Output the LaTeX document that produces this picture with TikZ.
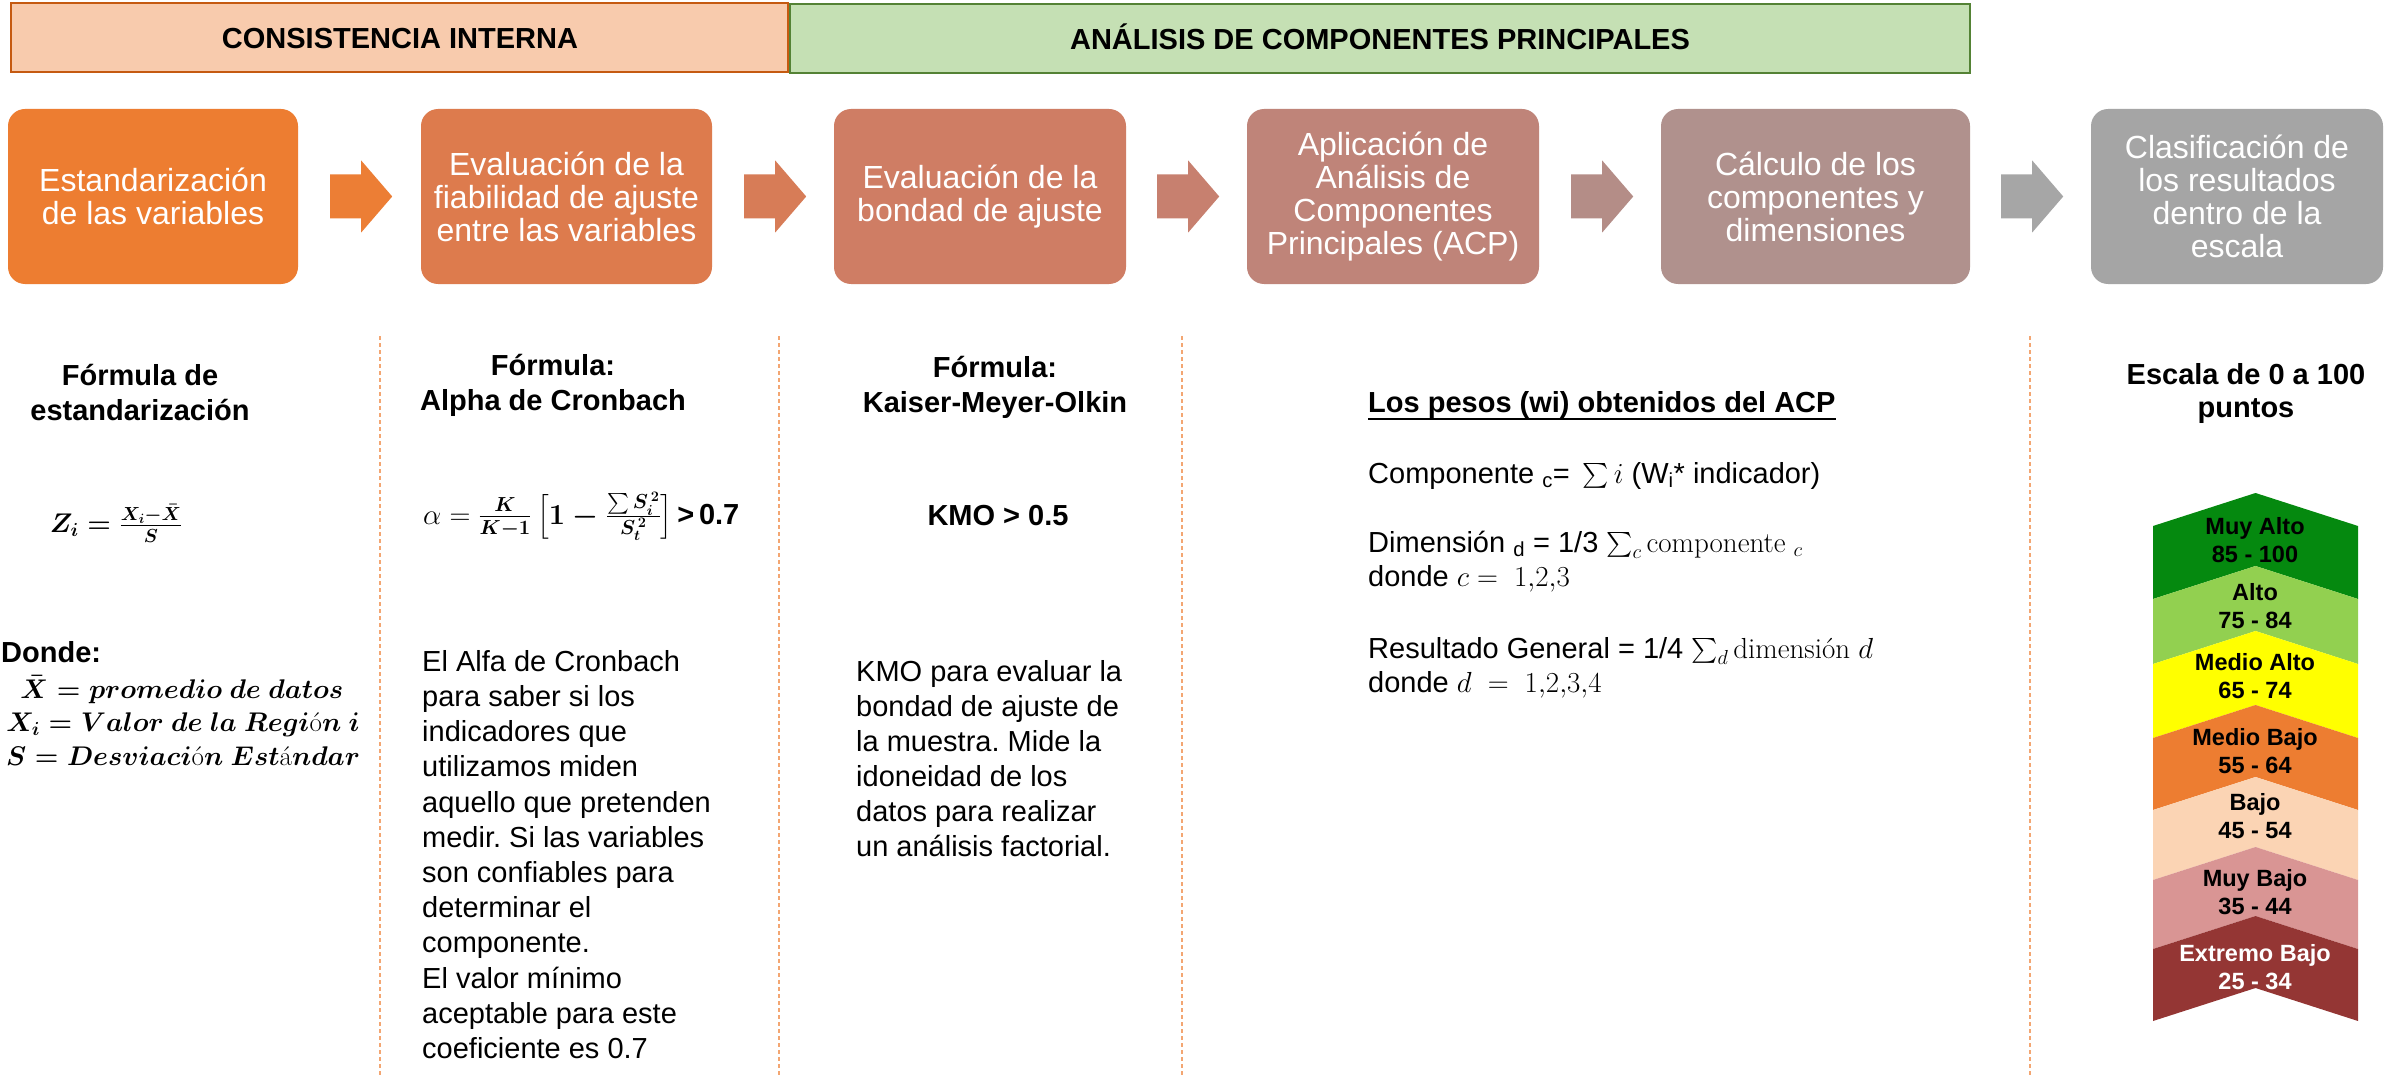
\RequirePackage{fix-cm}
\documentclass[tikz,border=0pt]{standalone}
\usepackage{amsmath}
\usepackage{graphicx}
\usepackage[no-math]{fontspec}
\setmainfont{Liberation Sans}
\usetikzlibrary{calc}
\frenchspacing

\definecolor{hAfill}{HTML}{F8CBAD}
\definecolor{hAline}{HTML}{C55A11}
\definecolor{hBfill}{HTML}{C5E0B4}
\definecolor{hBline}{HTML}{548235}
\definecolor{boxA}{HTML}{ED7D31}
\definecolor{boxB}{HTML}{DD7B4D}
\definecolor{boxC}{HTML}{CF7D64}
\definecolor{boxD}{HTML}{BF8479}
\definecolor{boxE}{HTML}{B0918D}
\definecolor{boxF}{HTML}{A5A5A5}
\definecolor{arA}{HTML}{EC7E35}
\definecolor{arB}{HTML}{D77C57}
\definecolor{arC}{HTML}{C7806F}
\definecolor{arD}{HTML}{B48D87}
\definecolor{arE}{HTML}{A6A6A6}
\definecolor{sepc}{HTML}{F3A672}
\definecolor{bandA}{HTML}{05890F}
\definecolor{bandB}{HTML}{92D050}
\definecolor{bandC}{HTML}{FFFF00}
\definecolor{bandD}{HTML}{ED7D31}
\definecolor{bandE}{HTML}{FBD4B4}
\definecolor{bandF}{HTML}{D99594}
\definecolor{bandG}{HTML}{943634}

\newcommand\lmtxt[1]{\text{\fontfamily{lmr}\fontseries{m}\fontshape{n}\selectfont #1}}

\tikzset{
  hdrbox/.style={line width=2.5pt, inner sep=0},
  hdrtext/.style={font=\fontsize{29}{35}\selectfont\bfseries, inner sep=0, anchor=base},
  stepbox/.style={rounded corners=17pt, minimum height=175pt, inner sep=0,
    text=white, align=center, font=\fontsize{32}{33}\selectfont},
  sepline/.style={draw=sepc, line width=2pt, dash pattern=on 4pt off 3pt},
  ttl/.style={font=\fontsize{29}{35}\selectfont\bfseries, align=center, inner sep=0, anchor=north},
  bodytext/.style={font=\fontsize{29}{35.2}\selectfont, align=left, inner sep=0, anchor=north west},
  linetext/.style={font=\fontsize{29}{35}\selectfont, inner sep=0, anchor=base west},
  defline/.style={font=\fontsize{27}{34}\selectfont\boldmath, inner sep=0, anchor=base},
  bandlbl/.style={font=\fontsize{23.5}{28}\selectfont\bfseries, align=center, inner sep=0, anchor=north},
}

\begin{document}
\begin{tikzpicture}[x=1pt,y=-1pt]
\useasboundingbox (0,0) rectangle (2384,1075);
\fill[white] (0,0) rectangle (2384,1075);

% headers
\node[hdrbox, draw=hAline, fill=hAfill, minimum width=777pt, minimum height=69pt] (hA) at (399.5,37.5) {};
\node[hdrbox, draw=hBline, fill=hBfill, minimum width=1180pt, minimum height=69pt] (hB) at (1380,38.5) {};
\node[hdrtext] (hAt) at (400,49) {CONSISTENCIA INTERNA};
\node[hdrtext] (hBt) at (1380,50) {ANÁLISIS DE COMPONENTES PRINCIPALES};

% step boxes
\node[stepbox, fill=boxA, minimum width=290pt] (b1) at (153,196.5) {Estandarización\\de las variables};
\node[stepbox, fill=boxB, minimum width=291pt] (b2) at (566.5,196.5) {Evaluación de la\\fiabilidad de ajuste\\entre las variables};
\node[stepbox, fill=boxC, minimum width=292pt] (b3) at (980,196.5) {Evaluación de la\\bondad de ajuste};
\node[stepbox, fill=boxD, minimum width=292pt] (b4) at (1393,196.5) {Aplicación de\\Análisis de\\Componentes\\Principales (ACP)};
\node[stepbox, fill=boxE, minimum width=309pt] (b5) at (1815.5,196.5) {Cálculo de los\\componentes y\\dimensiones};
\node[stepbox, fill=boxF, minimum width=292pt] (b6) at (2237,196.5) {Clasificación de\\los resultados\\dentro de la\\escala};

% block arrows between boxes
\fill[arA] ($(b1.east)+(32,-22)$) -- ++(31,0) -- ++(0,-14) -- ++(31,36) -- ++(-31,36) -- ++(0,-14) -- ++(-31,0) -- cycle;
\fill[arB] ($(b2.east)+(32,-22)$) -- ++(31,0) -- ++(0,-14) -- ++(31,36) -- ++(-31,36) -- ++(0,-14) -- ++(-31,0) -- cycle;
\fill[arC] ($(b3.east)+(31,-22)$) -- ++(31,0) -- ++(0,-14) -- ++(31,36) -- ++(-31,36) -- ++(0,-14) -- ++(-31,0) -- cycle;
\fill[arD] ($(b4.east)+(32,-22)$) -- ++(31,0) -- ++(0,-14) -- ++(31,36) -- ++(-31,36) -- ++(0,-14) -- ++(-31,0) -- cycle;
\fill[arE] ($(b5.east)+(31,-22)$) -- ++(31,0) -- ++(0,-14) -- ++(31,36) -- ++(-31,36) -- ++(0,-14) -- ++(-31,0) -- cycle;

% dashed separators
\draw[sepline] (380,336) -- (380,1075);
\draw[sepline] (779,336) -- (779,1075);
\draw[sepline] (1182,336) -- (1182,1075);
\draw[sepline] (2030,336) -- (2030,1075);

% column 1
\node[ttl] (t1) at (140,360.5) {\strut Fórmula de\\estandarización};
\node[inner sep=0, anchor=base, font=\fontsize{27}{35}\selectfont\boldmath] (z) at (116,532) {$Z_i = \frac{X_i-\bar{X}}{S}$};
\node[inner sep=0, anchor=base west, font=\fontsize{29}{35}\selectfont\bfseries] (donde) at (1,662) {Donde:};
\node[defline] (d1) at (182,698) {$\bar{X} = promedio\ de\ datos$};
\node[defline] (d2) at (183,731) {$X_i = Valor\ de\ la\ Regi\lmtxt{ó}n\ i$};
\node[defline] (d3) at (183,765) {$S = Desviaci\lmtxt{ó}n\ Est\lmtxt{á}ndar$};

% column 2
\node[ttl] (t2) at (553,350.5) {\strut Fórmula:\\Alpha de Cronbach};
\node[inner sep=0, anchor=base west, font=\fontsize{29}{35}\selectfont] (alpha) at (423,524)
  {$\alpha =$\ {\boldmath$\frac{K}{K-1}\left[1-\frac{\sum S_i^{\,2}}{S_t^{\,2}}\right]$}\,\textbf{>\,0.7}};
\node[bodytext] (p2) at (422,646.4) {\strut El Alfa de Cronbach\\para saber si los\\indicadores que\\utilizamos miden\\aquello que pretenden\\medir. Si las variables\\son confiables para\\determinar el\\componente.\\El valor mínimo\\aceptable para este\\coeficiente es 0.7};

% column 3
\node[ttl] (t3) at (995,352.5) {\strut Fórmula:\\Kaiser-Meyer-Olkin};
\node[inner sep=0, anchor=base, font=\fontsize{29}{35}\selectfont\bfseries] (kmo) at (998,525) {KMO > 0.5};
\node[bodytext, font=\fontsize{29}{35}\selectfont] (p3) at (856,656.5) {\strut KMO para evaluar la\\bondad de ajuste de\\la muestra. Mide la\\idoneidad de los\\datos para realizar\\un análisis factorial.};

% column 4
\node[linetext, font=\fontsize{29}{35}\selectfont\bfseries] (pesos) at (1368,412) {Los pesos (wi) obtenidos del ACP};
\draw[line width=2pt] ($(pesos.base west)+(0,7)$) -- ($(pesos.base east)+(0,7)$);
\node[linetext] (c1) at (1368,483) {Componente \textsubscript{c}=\, $\sum i$ (W\textsubscript{i}* indicador)};
\node[linetext] (c2) at (1368,552) {Dimensión \textsubscript{d} = 1/3 $\sum_c \lmtxt{componente}\;{}_c$};
\node[linetext] (c3) at (1368,586) {donde $c =\ 1{,}2{,}3$};
\node[linetext] (c4) at (1368,658) {Resultado General = 1/4 $\sum_d \lmtxt{dimensión}\ d$};
\node[linetext] (c5) at (1368,692) {donde $d\ =\ 1{,}2{,}3{,}4$};

% column 5
\node[ttl, font=\fontsize{29}{33}\selectfont\bfseries] (esc) at (2246,360.9) {\strut Escala de 0 a 100\\puntos};

% chevron scale
\def\chL{2153}\def\chR{2358}\def\chM{2255.5}
\fill[bandA] (\chL,526) -- (\chM,493) -- (\chR,526) -- (\chR,599) -- (\chM,566) -- (\chL,599) -- cycle;
\fill[bandB] (\chL,599) -- (\chM,566) -- (\chR,599) -- (\chR,664) -- (\chM,631) -- (\chL,664) -- cycle;
\fill[bandC] (\chL,664) -- (\chM,631) -- (\chR,664) -- (\chR,738) -- (\chM,705) -- (\chL,738) -- cycle;
\fill[bandD] (\chL,738) -- (\chM,705) -- (\chR,738) -- (\chR,810) -- (\chM,777) -- (\chL,810) -- cycle;
\fill[bandE] (\chL,810) -- (\chM,777) -- (\chR,810) -- (\chR,880) -- (\chM,847) -- (\chL,880) -- cycle;
\fill[bandF] (\chL,880) -- (\chM,847) -- (\chR,880) -- (\chR,949) -- (\chM,916) -- (\chL,949) -- cycle;
\fill[bandG] (\chL,949) -- (\chM,916) -- (\chR,949) -- (\chR,1021) -- (\chM,988) -- (\chL,1021) -- cycle;

\node[bandlbl] (l1) at (2255,514.4) {\strut Muy Alto\\85 - 100};
\node[bandlbl] (l2) at (2255,580.4) {\strut Alto\\75 - 84};
\node[bandlbl] (l3) at (2255,650.4) {\strut Medio Alto\\65 - 74};
\node[bandlbl] (l4) at (2255,725.4) {\strut Medio Bajo\\55 - 64};
\node[bandlbl] (l5) at (2255,790.4) {\strut Bajo\\45 - 54};
\node[bandlbl] (l6) at (2255,866.4) {\strut Muy Bajo\\35 - 44};
\node[bandlbl, text=white] (l7) at (2255,941.4) {\strut Extremo Bajo\\25 - 34};
\end{tikzpicture}
\end{document}
